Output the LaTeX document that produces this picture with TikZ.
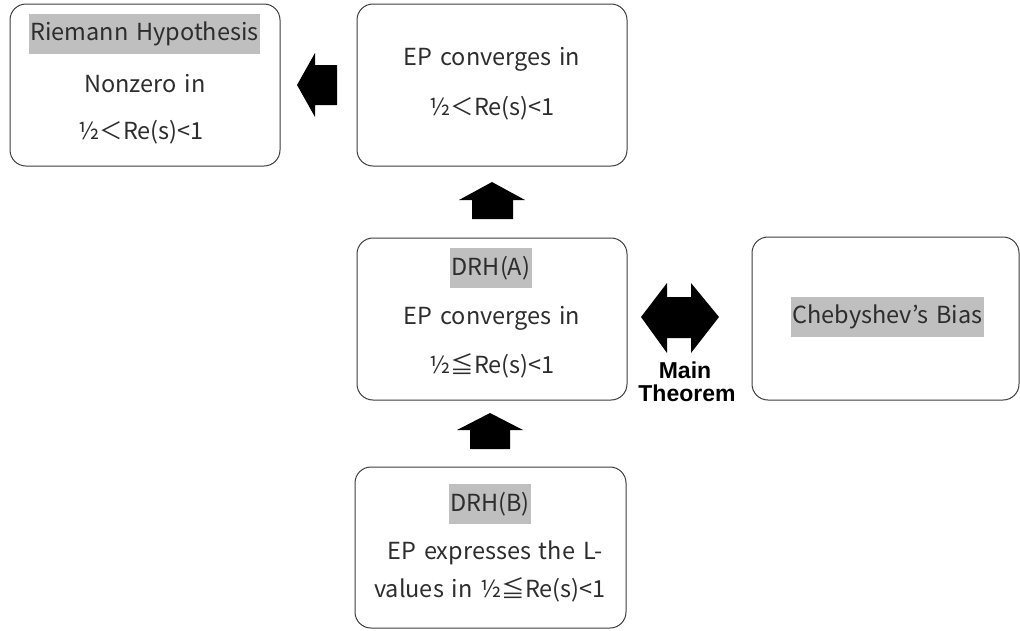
\documentclass[tikz,border=0pt]{standalone}
\usepackage{fontspec}
\setmainfont{Noto Sans CJK JP}[WordSpace=1.5]
\newfontfamily\thmfont{Liberation Sans}
\definecolor{boxc}{RGB}{60,60,60}
\definecolor{txtc}{RGB}{45,45,45}
\definecolor{hlc}{RGB}{191,191,191}
\begin{document}
\begin{tikzpicture}[x=1pt,y=-1pt,
  box/.style={draw=boxc, line width=1pt, rounded corners=16pt, minimum width=270pt, minimum height=162pt, inner sep=0pt},
  txt/.style={font=\fontsize{23.5}{27}\selectfont, text=txtc, inner sep=0pt},
  hl/.style={txt, fill=hlc, inner xsep=1.5pt, minimum height=40pt},
  thm/.style={font=\thmfont\bfseries\fontsize{23}{24}\selectfont, text=black, inner sep=0pt},
  blk/.style={fill=black, draw=none}]
\useasboundingbox (0,0) rectangle (1020,630);
% boxes
\node[box] (rh) at (145,85) {};
\node[box] (ept) at (492,85) {};
\node[box] (drha) at (492,319) {};
\node[box, minimum width=271pt, minimum height=161pt] (drhb) at (490.5,547.5) {};
\node[box, minimum width=267pt, minimum height=163pt] (cheb) at (885.5,318.5) {};
% texts
\node[hl] (rh1) at (144.5,34) {Riemann Hypothesis};
\node[txt] (rh2) at (145,84) {Nonzero in};
\node[txt] (rh3) at (141,132) {½＜Re(s)<1};
\node[txt] (ep1) at (492,59) {EP converges in};
\node[txt] (ep2) at (492,108) {½＜Re(s)<1};
\node[hl] (da1) at (491,268) {DRH(A)};
\node[txt] (da2) at (492,318) {EP converges in};
\node[txt] (da3) at (492,366) {½≦Re(s)<1};
\node[hl] (db1) at (490,504) {DRH(B)};
\node[txt] (db2) at (495,553) {EP expresses the L-};
\node[txt] (db3) at (490,590) {values in ½≦Re(s)<1};
\node[hl] (ch1) at (887.5,317) {Chebyshev’s Bias};
\node[thm] (mt1) at (685,370) {Main};
\node[thm] (mt2) at (687,393) {Theorem};
% block arrows
\fill[blk] (297,85) -- (315,53) -- (315,65) -- (337,65) -- (337,105) -- (315,105) -- (315,117) -- cycle;
\fill[blk] (492,182) -- (525,200) -- (513,200) -- (513,219) -- (472,219) -- (472,200) -- (459,200) -- cycle;
\fill[blk] (490,413) -- (523,430) -- (510,430) -- (510,449) -- (470,449) -- (470,430) -- (457,430) -- cycle;
\fill[blk] (641,317) -- (667,283) -- (667,297) -- (691,297) -- (691,283) -- (719,317) -- (691,353) -- (691,338) -- (667,338) -- (667,353) -- cycle;
\end{tikzpicture}
\end{document}
